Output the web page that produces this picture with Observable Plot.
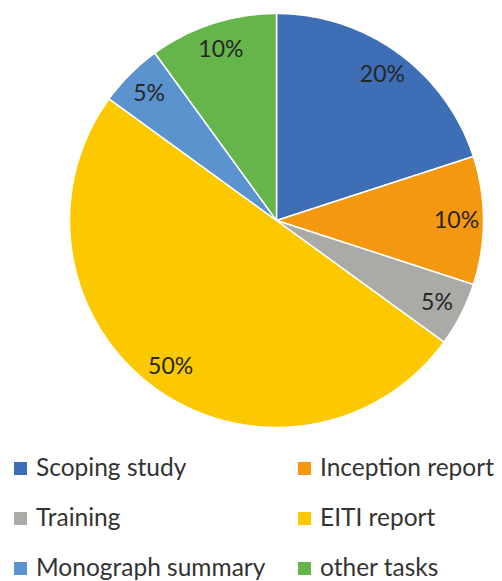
<!DOCTYPE html>
<html>
<head>
<meta charset="utf-8">
<script src="https://cdn.jsdelivr.net/npm/d3@7"></script>
<script src="https://cdn.jsdelivr.net/npm/@observablehq/plot@0.6"></script>
<style>
  html, body { margin: 0; padding: 0; background: #fff; }
  #chart { width: 502px; }
  .legend {
    display: grid;
    grid-template-columns: 284px 218px;
    padding-left: 14px;
    padding-top: 2px;
    font-family: Lato, "Open Sans", sans-serif;
    font-size: 24.5px;
    line-height: 50px;
    color: #333;
  }
  .legend .item { display: flex; align-items: center; white-space: nowrap; }
  .legend .sw { display: inline-block; width: 13px; height: 13px; margin-right: 9px; position: relative; top: 1px; }
</style>
</head>
<body>
<div id="chart"></div>
<script>
// Data
const categories = ["Scoping study", "Inception report", "Training", "EITI report", "Monograph summary", "other tasks"];
const shares = [20, 10, 5, 50, 5, 10];
const colors = ["#3d6eb6", "#f3980f", "#aaaaa6", "#fcc800", "#5b93cf", "#65b54a"];
const legendOrder = ["Scoping study", "Inception report", "Training", "EITI report", "Monograph summary", "other tasks"];

// Build slice polygons (unit circle, angle clockwise from top)
const total = d3.sum(shares);
const slices = [];
const labels = [];
let acc = 0;
categories.forEach((name, i) => {
  const a0 = acc / total * 2 * Math.PI;
  acc += shares[i];
  const a1 = acc / total * 2 * Math.PI;
  slices.push({name, x: 0, y: 0});
  const n = Math.max(8, Math.ceil((a1 - a0) / (Math.PI / 180)));
  for (let k = 0; k <= n; k++) {
    const a = a0 + (a1 - a0) * k / n;
    slices.push({name, x: Math.sin(a), y: Math.cos(a)});
  }
  const m = (a0 + a1) / 2;
  const r = 0.87;
  labels.push({name, x: r * Math.sin(m), y: r * Math.cos(m), text: shares[i] + "%"});
});

const chart = Plot.plot({
  width: 502,
  height: 440,
  marginLeft: 69,
  marginRight: 19,
  marginTop: 13,
  marginBottom: 13,
  x: {domain: [-1, 1], axis: null},
  y: {domain: [-1, 1], axis: null},
  color: {domain: categories, range: colors},
  style: {fontFamily: "Lato, 'Open Sans', sans-serif", background: "#fff"},
  marks: [
    Plot.line(slices, {x: "x", y: "y", z: "name", fill: "name", stroke: "#ffffff", strokeWidth: 1.5, curve: "linear-closed"}),
    Plot.text(labels, {x: "x", y: "y", text: "text", fontSize: 23, fill: "#262626"})
  ]
});
document.getElementById("chart").appendChild(chart);

// Legend (HTML below the SVG)
const legend = document.createElement("div");
legend.className = "legend";
const colorOf = Object.fromEntries(categories.map((c, i) => [c, colors[i]]));
legendOrder.forEach(name => {
  const item = document.createElement("div");
  item.className = "item";
  const sw = document.createElement("span");
  sw.className = "sw";
  sw.style.background = colorOf[name];
  item.appendChild(sw);
  item.appendChild(document.createTextNode(name));
  legend.appendChild(item);
});
document.getElementById("chart").appendChild(legend);
</script>
</body>
</html>
